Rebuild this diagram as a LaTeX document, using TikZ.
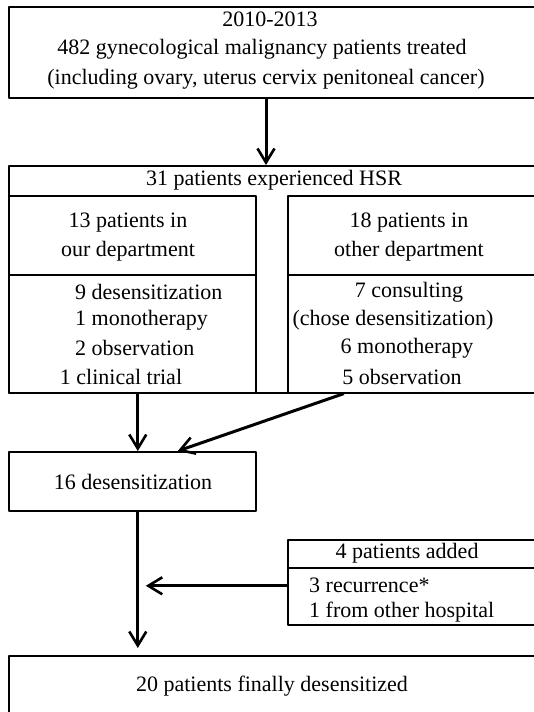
\documentclass[tikz,border=0pt]{standalone}
\usepackage{fontspec}
\setmainfont{Liberation Serif}
\usetikzlibrary{arrows.meta}
\begin{document}
\begin{tikzpicture}[x=1pt, y=-1pt, line join=round, font=\fontsize{22}{29}\selectfont,
	box/.style={draw, line width=1.6pt, anchor=north west, inner sep=0pt},
	txt/.style={inner sep=0pt},
	arr/.style={line width=3pt, -{Straight Barb[length=14pt, width=17pt, line width=2.6pt]}}]
	\useasboundingbox (0,0) rectangle (534,712);
	\clip (0,0) rectangle (534,712);
	%
	\node [box, minimum width=540pt, minimum height=91pt] (period) at (8,6) {};
	\node [txt] (year) at (270,19) {2010-2013};
	\node [txt] (treated) at (262,49) {482 gynecological malignancy patients treated};
	\node [txt] (sites) at (266,79) {(including ovary, uterus cervix penitoneal cancer)};
	%
	\node [box, minimum width=540pt, minimum height=227pt] (hsr) at (8,165) {};
	\node [txt] (hsrtitle) at (274,180) {31 patients experienced HSR};
	\node [box, minimum width=247pt, minimum height=197pt] (ours) at (8,195) {};
	\node [box, minimum width=261pt, minimum height=197pt] (other) at (287,195) {};
	\draw [line width=1.3pt] (8,275) -- (255,275) (287,275) -- (548,275);
	\node [txt] (ourshead) at (128,236) {\begin{tabular}{@{}c@{}}13 patients in\\our department\end{tabular}};
	\node [txt] (otherhead) at (409,236) {\begin{tabular}{@{}c@{}}18 patients in\\other department\end{tabular}};
	\node [txt, anchor=west] (o1) at (75,292) {9 desensitization};
	\node [txt, anchor=west] (o2) at (75,320) {1 monotherapy};
	\node [txt, anchor=west] (o3) at (75,348) {2 observation};
	\node [txt] (o4) at (121,377) {1 clinical trial};
	\node [txt] (p1) at (409,292) {7 consulting};
	\node [txt] (p2) at (393,320) {(chose desensitization)};
	\node [txt] (p3) at (407,348) {6 monotherapy};
	\node [txt] (p4) at (402,377) {5 observation};
	%
	\node [box, minimum width=247pt, minimum height=59pt] (desens) at (8,451) {};
	\node [txt] (desenstxt) at (133,482) {16 desensitization};
	\coordinate (trunk) at ([xshift=5.5pt]desens.south);
	%
	\node [box, minimum width=261pt, minimum height=85pt] (added) at (287,539) {};
	\draw [line width=1.3pt] (287,568) -- (548,568);
	\node [txt] (addedtxt) at (407,553) {4 patients added};
	\node [txt, anchor=west] (a1) at (309,585) {3 recurrence*};
	\node [txt, anchor=west] (a2) at (309,612) {1 from other hospital};
	%
	\node [box, minimum width=540pt, minimum height=120pt] (final) at (8,655) {};
	\node [txt] (finaltxt) at (272,686) {20 patients finally desensitized};
	%
	\draw [arr] (period.south -| 266,0) -- (hsr.north -| 266,0);
	\draw [arr] ([xshift=5.5pt]ours.south) -- ([xshift=5.5pt]desens.north);
	\draw [arr] ([xshift=-74.5pt]other.south) -- ([xshift=45.5pt]desens.north);
	\draw [arr, shorten >=7pt] (trunk) -- (trunk |- final.north);
	\draw [arr, shorten >=8pt] ([yshift=-3.5pt]added.west) -- ([yshift=-3.5pt]added.west -| trunk);
\end{tikzpicture}
\end{document}
